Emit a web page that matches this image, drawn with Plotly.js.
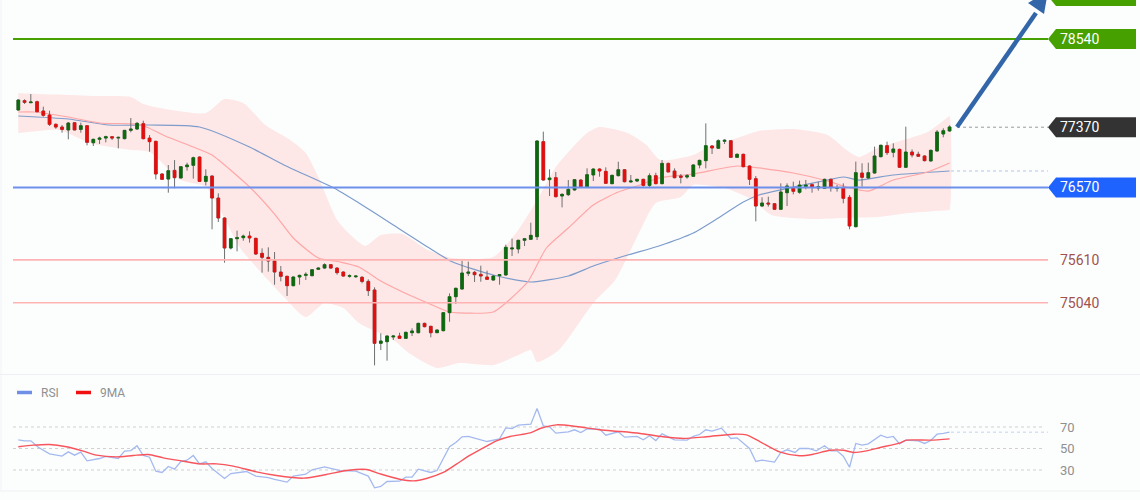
<!DOCTYPE html>
<html>
<head>
<meta charset="utf-8">
<script src="https://cdn.plot.ly/plotly-3.0.1.min.js"></script>
<style>html,body{margin:0;padding:0;background:#fcfefe;overflow:hidden}#chart{width:1140px;height:500px}</style>
</head>
<body>
<div id="chart"></div>
<script>
const openPrices = [
77598,77722,77695,77708,77585,77532,77408,77372,77333,77430,
77341,77390,77164,77209,77226,77244,77226,77218,77328,77346,
77417,77226,77182,76749,76682,76797,76696,76846,76864,76974,
76651,76722,76430,76165,75767,75891,75904,75926,75895,75696,
75643,75599,75448,75391,75267,75382,75404,75400,75484,75501,
75546,75501,75448,75391,75386,75378,75324,75210,74502,74524,
74586,74599,74568,74643,74643,74767,74727,74643,74670,74909,
75121,75223,75431,75444,75417,75382,75342,75400,75409,75754,
75754,75869,75882,75917,77178,76674,76700,76457,76475,76537,
76669,76581,76736,76815,76784,76621,76727,76806,76643,76656,
76678,76598,76727,76621,76890,76789,76723,76709,76718,76869,
76926,77121,77090,77183,77191,76970,77010,76855,76687,76324,
76364,76355,76280,76501,76563,76506,76581,76608,76563,76559,
76678,76559,76563,76439,76050,76762,76696,76762,76979,77125,
77037,77076,76838,77041,77010,76988,76922,77054,77280,77320];
const highPrices = [
77740,77740,77810,77722,77642,77589,77421,77399,77439,77439,
77430,77399,77218,77244,77257,77253,77244,77333,77492,77439,
77456,77266,77191,76758,76868,76934,76855,76899,76979,76983,
76811,76731,76492,76174,75900,75997,75944,75988,75904,75762,
75776,75714,75528,75400,75391,75413,75444,75488,75510,75563,
75554,75510,75457,75417,75404,75395,75351,75245,74635,74608,
74608,74643,74657,74701,74776,74776,74736,74688,74918,75165,
75241,75599,75586,75462,75532,75466,75409,75422,75811,75891,
75877,75900,76103,77196,77311,76811,76775,76492,76669,76682,
76678,76824,76824,76824,76837,76740,76912,76815,76736,76687,
76687,76758,76766,76935,76899,76824,76749,76749,76877,76939,
77421,77130,77209,77209,77200,77023,77019,76864,76723,76439,
76448,76364,76625,76625,76647,76661,76670,76625,76647,76687,
76687,76603,76625,76470,76913,76891,76899,77112,77138,77178,
77156,77085,77377,77076,77045,76997,77072,77333,77355,77395];
const lowPrices = [
77589,77678,77695,77567,77510,77386,77350,77297,77209,77333,
77297,77129,77120,77147,77169,77200,77089,77209,77302,77333,
77209,77045,76678,76669,76501,76559,76691,76793,76687,76647,
76598,76015,76112,75572,75749,75723,75864,75838,75674,75440,
75453,75280,75324,75130,75258,75280,75342,75391,75475,75488,
75488,75413,75386,75373,75369,75298,75130,74210,74413,74272,
74546,74564,74559,74599,74635,74714,74582,74639,74661,74789,
75024,75214,75395,75316,75320,75342,75333,75280,75400,75661,
75696,75793,75873,75873,76660,76457,76439,76306,76457,76528,
76572,76572,76656,76713,76616,76612,76718,76638,76638,76643,
76581,76563,76612,76612,76775,76692,76625,76687,76709,76824,
76824,77014,77081,77147,76961,76961,76838,76603,76121,76316,
76316,76271,76271,76324,76479,76488,76546,76501,76528,76550,
76515,76515,76360,76015,76041,76581,76687,76753,76970,77001,
76970,76829,76829,76970,76975,76917,76913,77045,77236,77311];
const closePrices = [
77731,77700,77704,77576,77527,77408,77372,77341,77425,77333,
77390,77169,77209,77226,77244,77226,77235,77328,77346,77421,
77218,77178,76749,76678,76793,76700,76846,76868,76965,76651,
76718,76430,76165,75767,75891,75904,75926,75900,75687,75643,
75594,75448,75391,75267,75382,75404,75417,75479,75501,75546,
75501,75440,75395,75400,75395,75324,75201,74502,74533,74599,
74599,74568,74648,74666,74767,74723,74643,74679,74909,75121,
75232,75435,75448,75413,75395,75351,75395,75413,75776,75767,
75869,75891,75935,77187,76669,76696,76448,76479,76545,76674,
76581,76740,76815,76789,76625,76731,76806,76647,76656,76678,
76598,76727,76621,76890,76776,76700,76705,76727,76869,76930,
77125,77094,77191,77196,76970,77010,76846,76678,76324,76364,
76351,76280,76510,76590,76519,76603,76603,76572,76581,76678,
76568,76568,76426,76059,76767,76705,76767,76988,77130,77032,
77081,76838,77041,77001,76984,76926,77063,77306,77324,77373];
const sessions = openPrices.map((_, i) => i);
const bandUpperX = [0,0.4,13,18,20,23.5,30,33,36,39.5,43.5,46,48,51,53,55.5,58,61.5,65.5,69.5,76,80,83,86,88,91,93,97.5,100.5,102.7,108,110.5,115,118.5,124,129.5,132.5,134.5,137.5,140,145.5,148.6,149];
const bandUpper = [77824,77822,77784,77771,77678,77612,77558,77744,77691,77399,77200,77028,76709,76139,75953,75794,75940,75953,75741,75634,75648,76006,76404,76842,77041,77293,77373,77293,77134,76935,77001,77107,77227,77320,77346,77266,77067,76975,77094,77160,77306,77495,77519];
const bandLowerX = [0,0.4,6.5,11.5,18,21,26,30,35.5,38.5,42.5,46,49,52,54.5,60,62.5,67,70.5,76,80,82,83,86.5,92,95.5,99,102,106,108,113.5,117.5,120.5,126.5,132,137.5,142.5,148.6,149];
const bandLower = [77293,77296,77333,77160,77067,77041,76669,76576,75767,75475,75117,74851,75037,74971,74772,74546,74374,74175,74241,74215,74347,74414,74254,74414,75037,75342,75913,76364,76444,76603,76550,76404,76205,76152,76165,76178,76231,76268,76271];
const fastMaX = [0,2.5,8,13,18.5,20.5,23.5,28,31,34.5,37.5,41,44,48,51.5,54.5,58,61.5,65.5,69,76,78,81.5,84.5,88,92,96,99,102.5,108,115,118.5,124,129.5,132.5,136,140,145.5,149];
const fastMa = [77572,77572,77505,77426,77413,77373,77253,77107,77001,76762,76537,76218,75900,75634,75581,75515,75329,75183,75037,74918,74918,75037,75316,75767,76032,76338,76510,76590,76696,76749,76855,76829,76762,76656,76576,76523,76669,76776,76895];
const slowMaX = [0,8,14.5,21,29,37,42.5,50.5,54.5,60,65.5,69.5,76,82,88,92,97.5,102.5,108,112,116,118.5,124,129.5,132,134.5,140,149];
const slowMa = [77519,77479,77399,77399,77373,77107,76868,76563,76364,76072,75780,75581,75409,75316,75396,75528,75674,75794,75966,76165,76377,76470,76576,76669,76709,76669,76736,76789];
const rsiX = [0,1,2,3.2,5,7,8,9,10,11,13,14,16,17,18,19,20,21,22,23,24,25,26,27,28,29,30,31,33,34,36.5,38,40,41,43,44,46,47,49,51.5,54,56,57,58,59,61,62,63,64,65,66,67,68,69,70,71,72,75,77,78,79,80,82,83,84,85,86,88,89,90,91,93,94,96,97,99,100,101,102,103,105,107,108,109,110,111,112.5,114,115,117,118,119,121,122,123,124.3,125,126.4,127.7,129,130,131,132,133,134,135,136,138,139,140,141,142,144,145,146,147,148,149];
const rsiValues = [58.1,57.1,57.1,51.2,45,42.9,46.9,43.8,46.6,38.5,40.7,42.6,40.7,47.5,48.1,52.5,43.5,41.9,28.9,27.7,33.3,30.8,37.9,39.1,43.5,35.7,37.6,31.4,22.1,26.7,28.6,24.3,23,21.2,18.7,24.3,26.1,30.2,32.9,29.5,28.9,24.3,13.4,14.7,19.3,19.6,23.3,23.3,30.8,29.5,27.7,29.5,40.7,51.6,55.6,60.9,61.2,56.5,59,69.2,68.6,71.7,72.6,87.2,71.1,70.2,64.3,65.5,67.4,64.9,68.3,68,62.4,65.5,60.5,61.2,58.1,61.8,57.4,63.6,58.1,57.8,61.2,63,67.4,66.1,68.9,59.3,59.9,50,37.9,39.1,37.3,46.3,48.8,46.3,50,50,47.8,52.5,47.8,47.8,42.9,32.6,54.7,53.1,54.3,62.4,60.2,61.2,54.3,57.8,57.1,54.7,57.4,63.3,64,65.2];
const rsiMaX = [0,2.4,5,7.7,10.4,12.5,15.7,18.4,20.8,23.2,26.4,29,31.7,34.4,38.1,41.3,45.6,49.3,52.5,55.7,57.9,61,63.2,65.3,68,70.1,72.3,75,76.5,78.7,81.9,83.5,86.1,89.3,93,96.3,99.5,103.2,106.4,110.1,114.4,116.5,118.7,121.9,125,127.2,129.9,132,133.6,135.7,137.9,141.1,142.1,145.9,149];
const rsiMa = [51.6,53.1,53.7,51.6,47.5,43.8,42.2,43.5,44.4,41.3,38.2,35.7,35.7,33.6,28.3,24.9,22.4,25.8,29.5,30.5,26.4,21.4,19.9,22.1,27.7,35.4,43.8,52.5,57.1,61.2,64.6,68.6,72,70.5,67.4,65.8,64,60.9,59.3,60.9,63.3,62.7,56.2,46.6,43.3,44.7,48.4,48.4,46.3,47.8,50.9,55.3,57.8,57.8,59];
const levelTarget = 78540, levelPrice = 77370, levelPivot = 76570, levelS1 = 75610, levelS2 = 75040, levelTop = 79110, levelSlow = 76789;
const rsiLevels = [70, 50, 30];
const rsiLast = 65.2;
const priceRange = [74095, 79058], rsiRange = [10.47, 119.3], sessionRange = [-2.928, 179.472];

const W = 1140, H = 500;
const px = x => x / W, py = y => 1 - y / H;
const up = '#0b6a0b', down = '#e60d0d', wick = '#6f6f6f';
const tagPath = (lvl) => {
  const h = 10 * 13.27;
  const xs = [1048, 1056, 1136, 1136, 1056].map(px);
  const ys = [lvl, lvl + h, lvl + h, lvl - h, lvl - h];
  return 'M' + xs.map((x, i) => x + ',' + ys[i]).join('L') + 'Z';
};
const hLine = (lvl, color, width, dash, yref, x0, x1, layer) => ({
  type: 'line', xref: 'paper', yref: yref || 'y', x0: px(x0 === undefined ? 13 : x0), x1: px(x1 === undefined ? 1048 : x1),
  y0: lvl, y1: lvl, line: {color, width, dash: dash || 'solid'}, layer: layer || 'above'});
const tag = (lvl, color) => ({type: 'path', xref: 'paper', yref: 'y', path: tagPath(lvl), fillcolor: color, line: {width: 0}, layer: 'above'});
const label = (text, lvl, color, x, yref, size) => ({
  text: String(text), xref: 'paper', yref: yref || 'y', x: px(x === undefined ? 1058 : x), y: lvl, xanchor: 'left', yanchor: 'middle',
  showarrow: false, font: {family: 'Roboto, sans-serif', size: size || 14, color}});

const traces = [
  {type: 'scatter', mode: 'lines', x: bandUpperX.concat(bandLowerX.slice().reverse()), y: bandUpper.concat(bandLower.slice().reverse()),
   fill: 'toself', fillcolor: 'rgba(255,190,190,0.36)', line: {width: 0, shape: 'spline', smoothing: 0.6}, hoverinfo: 'skip', showlegend: false},
  {type: 'scatter', mode: 'lines', x: slowMaX, y: slowMa, line: {color: '#7d9ccb', width: 1.2, shape: 'spline', smoothing: 0.6}, showlegend: false},
  {type: 'scatter', mode: 'lines', x: fastMaX, y: fastMa, line: {color: '#ffa6a6', width: 1.2, shape: 'spline', smoothing: 0.6}, showlegend: false},
  {type: 'candlestick', x: sessions, yaxis: 'y3', open: openPrices, high: highPrices, low: lowPrices, close: closePrices, whiskerwidth: 0,
   increasing: {line: {color: wick, width: 1}, fillcolor: up}, decreasing: {line: {color: wick, width: 1}, fillcolor: down}, showlegend: false},
  {type: 'candlestick', x: sessions, yaxis: 'y3', open: openPrices, close: closePrices,
   high: openPrices.map((o, i) => Math.max(o, closePrices[i])), low: openPrices.map((o, i) => Math.min(o, closePrices[i])), whiskerwidth: 0,
   increasing: {line: {color: up, width: 0.6}, fillcolor: up}, decreasing: {line: {color: down, width: 0.6}, fillcolor: down}, showlegend: false},
  {type: 'scatter', mode: 'lines', x: rsiX, y: rsiValues, yaxis: 'y2', line: {color: '#a4b9ee', width: 1.3}, showlegend: false},
  {type: 'scatter', mode: 'lines', x: rsiMaX, y: rsiMa, yaxis: 'y2', line: {color: '#f8545c', width: 1.4, shape: 'spline', smoothing: 0.7}, showlegend: false}
];

const shapes = [
  {type: 'line', xref: 'paper', yref: 'paper', x0: px(0), x1: px(W), y0: py(374.5), y1: py(374.5), line: {color: '#eef1f4', width: 1}, layer: 'below'},
  {type: 'line', xref: 'paper', yref: 'paper', x0: px(0), x1: px(W), y0: py(491), y1: py(491), line: {color: '#eef1f4', width: 1}, layer: 'below'},
  {type: 'line', xref: 'paper', yref: 'paper', x0: px(1), x1: px(1), y0: py(0), y1: py(491), line: {color: '#f0f3f6', width: 1}, layer: 'below'},
  hLine(levelTarget, '#46a000', 2),
  hLine(levelPivot, '#6d90ea', 2),
  hLine(levelS1, '#ffb3b3', 1.6),
  hLine(levelS2, '#ffb3b3', 1.6),
  hLine(levelPrice, '#999999', 1, 'dot', 'y', 957),
  hLine(levelSlow, '#b6c4e4', 1, 'dot', 'y', 951),
  tag(levelTop, '#46a000'),
  tag(levelTarget, '#46a000'),
  tag(levelPrice, '#333333'),
  tag(levelPivot, '#1f63ff'),
  ...rsiLevels.map(l => hLine(l, '#d3cfcf', 1, 'dot', 'y2', 13, 1045, 'below')),
  hLine(rsiLast, '#c3cff0', 1, 'dot', 'y2', 951, 1048),
  {type: 'line', xref: 'paper', yref: 'paper', x0: px(957), y0: py(127), x1: px(1036), y1: py(13), line: {color: '#3266a8', width: 4.5}, layer: 'above'},
  {type: 'path', xref: 'paper', yref: 'paper', fillcolor: '#3266a8', line: {width: 0}, layer: 'above',
   path: 'M' + px(1048) + ',' + py(-9) + 'L' + px(1044) + ',' + py(14) + 'L' + px(1028) + ',' + py(3) + 'Z'},
  {type: 'line', xref: 'paper', yref: 'paper', x0: px(17), x1: px(32), y0: py(392.5), y1: py(392.5), line: {color: '#6f8fe6', width: 3.5}},
  {type: 'line', xref: 'paper', yref: 'paper', x0: px(76), x1: px(91), y0: py(392.5), y1: py(392.5), line: {color: '#f01010', width: 3.5}}
];

const annotations = [
  label(levelTarget, levelTarget, '#ffffff'),
  label(levelPrice, levelPrice, '#ffffff'),
  label(levelPivot, levelPivot, '#ffffff'),
  label(levelS1, levelS1, '#a0524f'),
  label(levelS2, levelS2, '#a0524f'),
  ...rsiLevels.map(l => label(l, l, '#909090', 1058, 'y2', 13)),
  {text: 'RSI', xref: 'paper', yref: 'paper', x: px(39), y: py(392.5), xanchor: 'left', yanchor: 'middle', showarrow: false, font: {family: 'Roboto, sans-serif', size: 12, color: '#909090'}},
  {text: '9MA', xref: 'paper', yref: 'paper', x: px(98), y: py(392.5), xanchor: 'left', yanchor: 'middle', showarrow: false, font: {family: 'Roboto, sans-serif', size: 12, color: '#909090'}}
];

const layout = {
  width: W, height: H, margin: {l: 0, r: 0, t: 0, b: 0}, paper_bgcolor: '#fcfefe', plot_bgcolor: 'rgba(0,0,0,0)', showlegend: false, boxgap: 0.38,
  xaxis: {range: sessionRange, showgrid: false, zeroline: false, showticklabels: false, showline: false, ticks: '', rangeslider: {visible: false}, fixedrange: true},
  yaxis: {domain: [py(374), 1], range: priceRange, showgrid: false, zeroline: false, showticklabels: false, ticks: '', fixedrange: true},
  yaxis2: {domain: [py(491), py(374)], range: rsiRange, showgrid: false, zeroline: false, showticklabels: false, ticks: '', fixedrange: true},
  yaxis3: {overlaying: 'y', range: priceRange, showgrid: false, zeroline: false, showticklabels: false, ticks: '', fixedrange: true},
  shapes, annotations
};
Plotly.newPlot('chart', traces, layout, {displayModeBar: false, staticPlot: true});
</script>
</body>
</html>
